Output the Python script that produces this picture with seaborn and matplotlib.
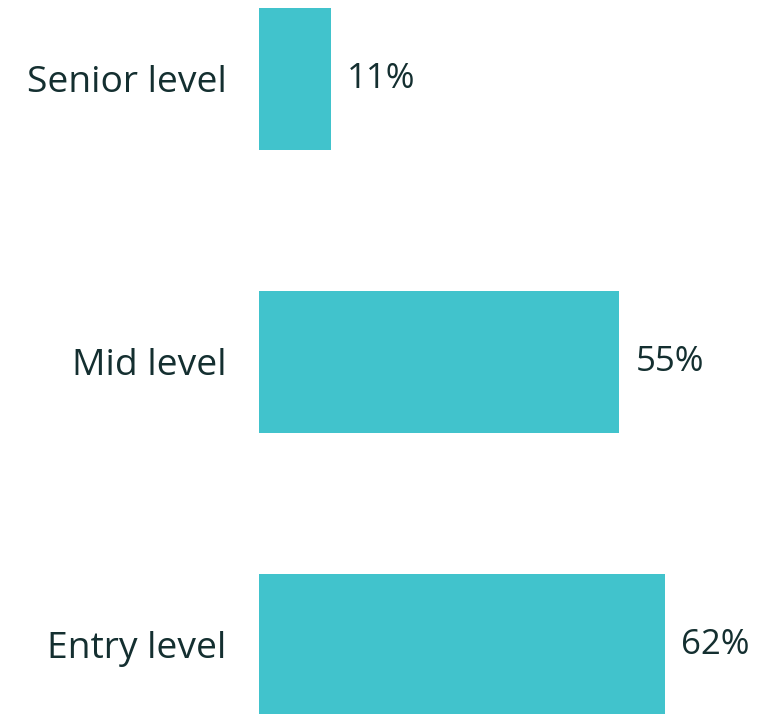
import matplotlib
matplotlib.use("Agg")
import matplotlib.pyplot as plt
import seaborn as sns
import pandas as pd

levels = ["Senior level", "Mid level", "Entry level"]
shares = [11, 55, 62]
value_labels = ["11%", "55%", "62%"]

sns.set_style("white")
plt.rcParams["font.family"] = ["Open Sans", "DejaVu Sans"]

BAR_COLOR = "#41c3cc"
TEXT_COLOR = "#142f30"

df = pd.DataFrame({"level": levels, "share": shares})

fig = plt.figure(figsize=(7.79, 7.14), dpi=100)
ax = fig.add_axes([258.5 / 779, 0, 520.5 / 779, 1])

sns.barplot(data=df, y="level", x="share", color=BAR_COLOR, width=0.502,
            saturation=1, linewidth=0, ax=ax, orient="h")

ax.set_xlim(0, 520.5 / 6.56)
ax.set_ylim(2.244, -0.279)

ax.bar_label(ax.containers[0], labels=value_labels, padding=11.5,
             fontsize=25, color=TEXT_COLOR)

ax.set_xlabel("")
ax.set_ylabel("")
ax.set_xticks([])
ax.tick_params(axis="y", length=0, pad=23, labelsize=26.8, labelcolor=TEXT_COLOR)
sns.despine(ax=ax, left=True, bottom=True)

fig.savefig("out.png", dpi=100, facecolor="white")
